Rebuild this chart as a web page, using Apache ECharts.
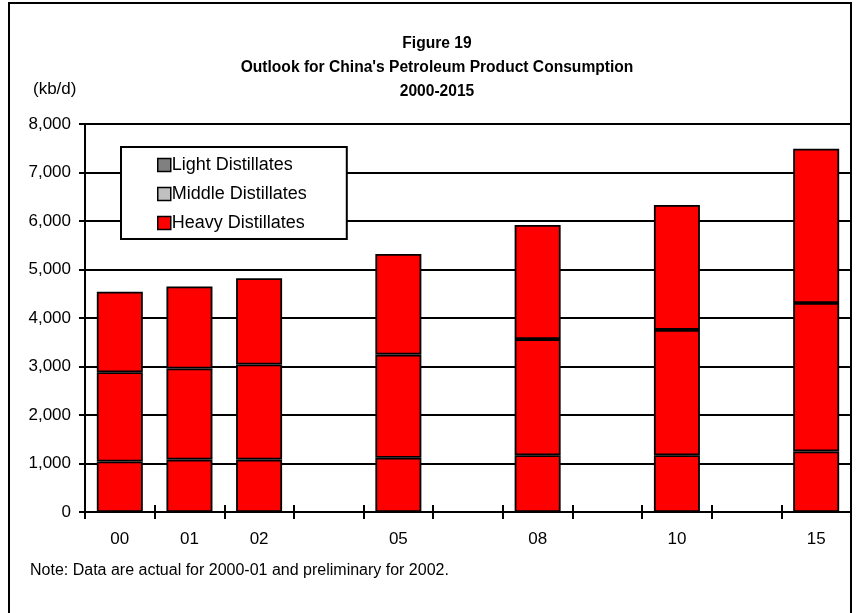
<!DOCTYPE html>
<html>
<head>
<meta charset="utf-8">
<script src="https://cdn.jsdelivr.net/npm/echarts@6/dist/echarts.min.js"></script>
<style>html,body{margin:0;padding:0;background:#fff}#c{width:857px;height:613px}</style>
</head>
<body>
<div id="c"></div>
<script>
// ---- data (kb/d) ----
const years = ['00', '01', '02', '', '05', '', '08', '', '10', '', '15'];
const heavyDistillates  = [1040, 1080, 1080, '-', 1120, '-', 1170, '-', 1170, '-', 1250];
const middleDistillates = [1840, 1880, 1960, '-', 2125, '-', 2395, '-', 2585, '-', 3060];
const lightDistillates  = [1660, 1690, 1780, '-', 2075, '-', 2355, '-', 2575, '-', 3180];
const yTicks = { min: 0, max: 8000, interval: 1000 };
const seriesNames = ['Light Distillates', 'Middle Distillates', 'Heavy Distillates'];
const legendColors = ['#808080', '#c0c0c0', '#ff0000'];

const FONT = "'Liberation Sans', Arial, sans-serif";
const chart = echarts.init(document.getElementById('c'), null, { renderer: 'canvas' });

const barStyle = { color: '#ff0000', borderColor: '#000', borderWidth: 1.8 };
function bar(name, data) {
  return {
    name, type: 'bar', stack: 'total', data, barWidth: 46,
    itemStyle: barStyle, xAxisIndex: 0, yAxisIndex: 0, animation: false,
    emphasis: { disabled: true }
  };
}

chart.setOption({
  animation: false,
  backgroundColor: '#fff',
  textStyle: { fontFamily: FONT },
  title: {
    text: "Figure 19\nOutlook for China's Petroleum Product Consumption\n2000-2015",
    left: 432, top: 27, textAlign: 'center',
    textStyle: { fontFamily: FONT, fontSize: 15.6, fontWeight: 'bold', color: '#000', lineHeight: 24 }
  },
  grid: { left: 85, right: 6, top: 124, bottom: 101, containLabel: false },
  legend: {
    orient: 'vertical', left: 121, top: 147,
    itemWidth: 13, itemHeight: 13, itemGap: 11,
    backgroundColor: '#fff', borderColor: '#000', borderWidth: 2,
    padding: [9, 40, 7, 36],
    textStyle: { fontFamily: FONT, fontSize: 18, color: '#000', padding: [0, 0, 0, -4] },
    icon: 'rect',
    data: seriesNames.map((n, i) => ({ name: n, itemStyle: { color: legendColors[i], borderColor: '#000', borderWidth: 1.5 } })),
    selectedMode: false
  },
  xAxis: [
    {
      type: 'category', data: years, position: 'bottom', boundaryGap: true,
      axisLine: { lineStyle: { color: '#000', width: 2 } },
      axisTick: { show: true, length: 7, lineStyle: { color: '#000', width: 2 }, interval: 0 },
      axisLabel: { fontFamily: FONT, fontSize: 17, color: '#000', margin: 19, interval: 0 },
      splitLine: { show: false }
    },
    {
      type: 'category', data: years, position: 'bottom', boundaryGap: true, gridIndex: 0,
      axisLine: { show: false },
      axisTick: { show: true, inside: true, length: 7, lineStyle: { color: '#000', width: 2 }, interval: 0 },
      axisLabel: { show: false }, splitLine: { show: false }
    }
  ],
  yAxis: [
    {
      type: 'value', min: yTicks.min, max: yTicks.max, interval: yTicks.interval,
      axisLine: { show: true, lineStyle: { color: '#000', width: 2 } },
      axisTick: { show: true, length: 6, lineStyle: { color: '#000', width: 2 } },
      axisLabel: { fontFamily: FONT, fontSize: 17, color: '#000', margin: 14,
        formatter: v => v.toLocaleString('en-US') },
      splitLine: { show: true, lineStyle: { color: '#000', width: 2 } }
    },
    {
      type: 'value', min: yTicks.min, max: yTicks.max, interval: yTicks.interval, position: 'left',
      axisLine: { show: false },
      axisTick: { show: true, inside: true, length: 6, lineStyle: { color: '#000', width: 2 } },
      axisLabel: { show: false }, splitLine: { show: false }
    }
  ],
  series: [
    bar('Heavy Distillates', heavyDistillates),
    bar('Middle Distillates', middleDistillates),
    bar('Light Distillates', lightDistillates)
  ],
  graphic: [
    { type: 'rect', silent: true, z: -1,
      shape: { x: 9, y: 3, width: 842, height: 660 },
      style: { fill: null, stroke: '#000', lineWidth: 2 } },
    { type: 'text', left: 33, top: 81, silent: true,
      style: { text: '(kb/d)', fontFamily: FONT, fontSize: 17, fill: '#000' } },
    { type: 'text', left: 30, top: 563, silent: true,
      style: { text: 'Note: Data are actual for 2000-01 and preliminary for 2002.', fontFamily: FONT, fontSize: 16, fill: '#000' } }
  ]
});
</script>
</body>
</html>
